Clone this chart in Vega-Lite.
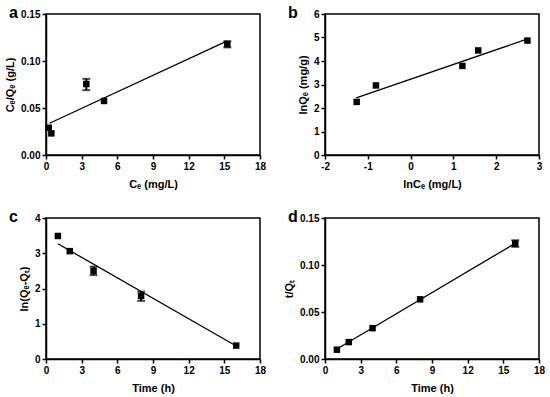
{
  "$schema": "https://vega.github.io/schema/vega-lite/v6.json",
  "padding": {"left": 3, "top": 4, "right": 5, "bottom": 2},
  "background": "white",
  "config": {
    "font": "Liberation Sans",
    "view": {"stroke": "black", "strokeWidth": 1.5},
    "axis": {"domainColor": "black", "domainWidth": 1.5, "tickColor": "black", "tickWidth": 1.5, "tickSize": 4, "labelFont": "Liberation Sans", "labelFontSize": 10, "labelFontWeight": "bold", "labelColor": "black", "labelPadding": 2, "titleFont": "Liberation Sans", "titleFontSize": 11, "titleFontWeight": "bold", "titleColor": "black", "grid": false, "labelFlush": false, "labelOverlap": false},
    "axisY": {"titlePadding": 5},
    "axisX": {"titlePadding": 7},
    "title": {"font": "Liberation Sans", "fontSize": 16, "fontWeight": "bold", "color": "black", "anchor": "start", "frame": "group", "baseline": "alphabetic", "offset": 0, "dx": -37}
  },
  "datasets": {
    "a_pts": [{"x": 0.23, "y": 0.029}, {"x": 0.45, "y": 0.023}, {"x": 3.39, "y": 0.0755}, {"x": 4.88, "y": 0.0575}, {"x": 15.25, "y": 0.118}],
    "a_err": [{"x": 3.39, "lo": 0.069, "hi": 0.081}, {"x": 15.25, "lo": 0.1145, "hi": 0.121}],
    "a_fit": [{"x": 0.3, "y": 0.0338}, {"x": 15.25, "y": 0.1214}],
    "b_pts": [{"x": -1.26, "y": 2.26}, {"x": -0.81, "y": 2.96}, {"x": 1.21, "y": 3.79}, {"x": 1.58, "y": 4.45}, {"x": 2.73, "y": 4.87}],
    "b_fit": [{"x": -1.27, "y": 2.43}, {"x": 2.72, "y": 4.93}],
    "c_pts": [{"x": 1.0, "y": 3.49}, {"x": 2.0, "y": 3.06}, {"x": 4.0, "y": 2.5}, {"x": 8.0, "y": 1.79}, {"x": 16.0, "y": 0.38}],
    "c_err": [{"x": 4.0, "lo": 2.38, "hi": 2.62}, {"x": 8.0, "lo": 1.65, "hi": 1.91}],
    "c_fit": [{"x": 1.0, "y": 3.27}, {"x": 16.0, "y": 0.37}],
    "d_pts": [{"x": 1.0, "y": 0.0099}, {"x": 2.0, "y": 0.018}, {"x": 4.0, "y": 0.0328}, {"x": 8.0, "y": 0.0635}, {"x": 16.0, "y": 0.1228}],
    "d_err": [{"x": 16.0, "lo": 0.1193, "hi": 0.1263}],
    "d_fit": [{"x": 1.0, "y": 0.0106}, {"x": 16.0, "y": 0.1231}]
  },
  "bounds": "flush",
  "columns": 2,
  "spacing": {"row": 63, "column": 65},
  "concat": [
    {
      "width": 214, "height": 141,
      "title": {"text": "a", "dy": 16},
      "encoding": {
        "x": {"field": "x", "type": "quantitative", "scale": {"domain": [0, 18], "nice": false}, "axis": {"values": [0, 3, 6, 9, 12, 15, 18], "title": "Cₑ (mg/L)"}},
        "y": {"field": "y", "type": "quantitative", "scale": {"domain": [0, 0.15], "nice": false}, "axis": {"values": [0, 0.05, 0.1, 0.15], "format": ".2f", "title": "Cₑ/Qₑ (g/L)"}}
      },
      "layer": [
        {
          "data": {"name": "a_fit"},
          "mark": {"type": "line", "color": "black", "strokeWidth": 1.3}
        },
        {
          "data": {"name": "a_err"},
          "mark": {"type": "errorbar", "ticks": {"size": 8, "thickness": 2, "color": "black"}, "thickness": 2, "color": "black"},
          "encoding": {
            "y": {"field": "lo", "type": "quantitative", "axis": {"values": [0, 0.05, 0.1, 0.15], "format": ".2f", "title": "Cₑ/Qₑ (g/L)"}},
            "y2": {"field": "hi"}
          }
        },
        {
          "data": {"name": "a_pts"},
          "mark": {"type": "point", "shape": "square", "filled": true, "color": "black", "opacity": 1, "size": 42}
        },
        {
          "data": {"values": [{"eq": "y = 0.0058x + 0.0329"}]},
          "mark": {"type": "text", "align": "right", "baseline": "alphabetic", "dx": -6, "dy": 16, "fontSize": 10, "fontWeight": "bold", "color": "black"},
          "encoding": {
            "x": {"datum": 18, "type": "quantitative", "axis": {"values": [0, 3, 6, 9, 12, 15, 18], "title": "Cₑ (mg/L)"}},
            "y": {"datum": 0.15, "type": "quantitative", "axis": {"values": [0, 0.05, 0.1, 0.15], "format": ".2f", "title": "Cₑ/Qₑ (g/L)"}},
            "text": {"field": "eq"}
          }
        }
      ]
    },
    {
      "width": 214, "height": 141,
      "title": {"text": "b", "dy": 16},
      "encoding": {
        "x": {"field": "x", "type": "quantitative", "scale": {"domain": [-2, 3], "nice": false, "zero": false}, "axis": {"values": [-2, -1, 0, 1, 2, 3], "labelExpr": "datum.value < 0 ? '-' + abs(datum.value) : datum.label", "title": "lnCₑ (mg/L)"}},
        "y": {"field": "y", "type": "quantitative", "scale": {"domain": [0, 6], "nice": false}, "axis": {"values": [0, 1, 2, 3, 4, 5, 6], "title": "lnQₑ (mg/g)"}}
      },
      "layer": [
        {
          "data": {"name": "b_fit"},
          "mark": {"type": "line", "color": "black", "strokeWidth": 1.3}
        },
        {
          "data": {"name": "b_pts"},
          "mark": {"type": "point", "shape": "square", "filled": true, "color": "black", "opacity": 1, "size": 42}
        },
        {
          "data": {"values": [{"eq": "y = 0.6267x + 3.2247"}]},
          "mark": {"type": "text", "align": "right", "baseline": "alphabetic", "dx": -6, "dy": 16, "fontSize": 10, "fontWeight": "bold", "color": "black"},
          "encoding": {
            "x": {"datum": 3, "type": "quantitative", "axis": {"values": [-2, -1, 0, 1, 2, 3], "labelExpr": "datum.value < 0 ? '-' + abs(datum.value) : datum.label", "title": "lnCₑ (mg/L)"}},
            "y": {"datum": 6, "type": "quantitative", "axis": {"values": [0, 1, 2, 3, 4, 5, 6], "title": "lnQₑ (mg/g)"}},
            "text": {"field": "eq"}
          }
        }
      ]
    },
    {
      "width": 214, "height": 141,
      "title": {"text": "c", "dy": 16},
      "encoding": {
        "x": {"field": "x", "type": "quantitative", "scale": {"domain": [0, 18], "nice": false}, "axis": {"values": [0, 3, 6, 9, 12, 15, 18], "title": "Time (h)"}},
        "y": {"field": "y", "type": "quantitative", "scale": {"domain": [0, 4], "nice": false}, "axis": {"values": [0, 1, 2, 3, 4], "title": "ln(Qₑ-Qₜ)"}}
      },
      "layer": [
        {
          "data": {"name": "c_fit"},
          "mark": {"type": "line", "color": "black", "strokeWidth": 1.3}
        },
        {
          "data": {"name": "c_err"},
          "mark": {"type": "errorbar", "ticks": {"size": 8, "thickness": 2, "color": "black"}, "thickness": 2, "color": "black"},
          "encoding": {
            "y": {"field": "lo", "type": "quantitative", "axis": {"values": [0, 1, 2, 3, 4], "title": "ln(Qₑ-Qₜ)"}},
            "y2": {"field": "hi"}
          }
        },
        {
          "data": {"name": "c_pts"},
          "mark": {"type": "point", "shape": "square", "filled": true, "color": "black", "opacity": 1, "size": 42}
        },
        {
          "data": {"values": [{"eq": "y = -0.197x + 3.4685"}]},
          "mark": {"type": "text", "align": "right", "baseline": "alphabetic", "dx": -6, "dy": 16, "fontSize": 10, "fontWeight": "bold", "color": "black"},
          "encoding": {
            "x": {"datum": 18, "type": "quantitative", "axis": {"values": [0, 3, 6, 9, 12, 15, 18], "title": "Time (h)"}},
            "y": {"datum": 4, "type": "quantitative", "axis": {"values": [0, 1, 2, 3, 4], "title": "ln(Qₑ-Qₜ)"}},
            "text": {"field": "eq"}
          }
        }
      ]
    },
    {
      "width": 214, "height": 141,
      "title": {"text": "d", "dy": 16},
      "encoding": {
        "x": {"field": "x", "type": "quantitative", "scale": {"domain": [0, 18], "nice": false}, "axis": {"values": [0, 3, 6, 9, 12, 15, 18], "title": "Time (h)"}},
        "y": {"field": "y", "type": "quantitative", "scale": {"domain": [0, 0.15], "nice": false}, "axis": {"values": [0, 0.05, 0.1, 0.15], "format": ".2f", "title": "t/Qₜ"}}
      },
      "layer": [
        {
          "data": {"name": "d_fit"},
          "mark": {"type": "line", "color": "black", "strokeWidth": 1.3}
        },
        {
          "data": {"name": "d_err"},
          "mark": {"type": "errorbar", "ticks": {"size": 8, "thickness": 2, "color": "black"}, "thickness": 2, "color": "black"},
          "encoding": {
            "y": {"field": "lo", "type": "quantitative", "axis": {"values": [0, 0.05, 0.1, 0.15], "format": ".2f", "title": "t/Qₜ"}},
            "y2": {"field": "hi"}
          }
        },
        {
          "data": {"name": "d_pts"},
          "mark": {"type": "point", "shape": "square", "filled": true, "color": "black", "opacity": 1, "size": 42}
        },
        {
          "data": {"values": [{"eq": "y = 0.0075x + 0.0031"}]},
          "mark": {"type": "text", "align": "right", "baseline": "alphabetic", "dx": -6, "dy": 16, "fontSize": 10, "fontWeight": "bold", "color": "black"},
          "encoding": {
            "x": {"datum": 18, "type": "quantitative", "axis": {"values": [0, 3, 6, 9, 12, 15, 18], "title": "Time (h)"}},
            "y": {"datum": 0.15, "type": "quantitative", "axis": {"values": [0, 0.05, 0.1, 0.15], "format": ".2f", "title": "t/Qₜ"}},
            "text": {"field": "eq"}
          }
        }
      ]
    }
  ]
}
